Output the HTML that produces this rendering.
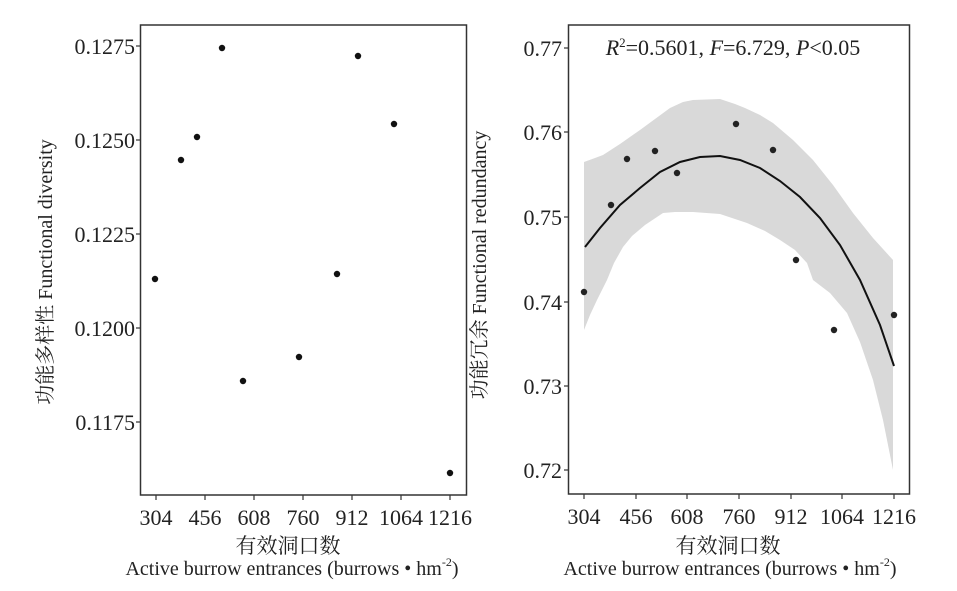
<!DOCTYPE html>
<html><head><meta charset="utf-8"><style>
body{margin:0;background:#fff;}
svg text{font-family:"Liberation Serif","Noto Serif CJK SC",serif;fill:#222;}
</style></head><body>
<svg width="957" height="586" viewBox="0 0 957 586" xmlns="http://www.w3.org/2000/svg">
<!-- Left panel -->
<rect x="140.5" y="25" width="326" height="470" fill="none" stroke="#333" stroke-width="1.5"/>
<g stroke="#333" stroke-width="1.2">
<line x1="136" y1="46" x2="140" y2="46"/><line x1="136" y1="140" x2="140" y2="140"/><line x1="136" y1="234" x2="140" y2="234"/><line x1="136" y1="328" x2="140" y2="328"/><line x1="136" y1="422" x2="140" y2="422"/>
<line x1="156" y1="495" x2="156" y2="500"/><line x1="205" y1="495" x2="205" y2="500"/><line x1="254" y1="495" x2="254" y2="500"/><line x1="303" y1="495" x2="303" y2="500"/><line x1="352" y1="495" x2="352" y2="500"/><line x1="401" y1="495" x2="401" y2="500"/><line x1="450" y1="495" x2="450" y2="500"/>
</g>
<g font-size="22" text-anchor="end">
<text x="135" y="54">0.1275</text><text x="135" y="148">0.1250</text><text x="135" y="242">0.1225</text><text x="135" y="336">0.1200</text><text x="135" y="430">0.1175</text>
</g>
<g font-size="22" text-anchor="middle">
<text x="156" y="525">304</text><text x="205" y="525">456</text><text x="254" y="525">608</text><text x="303" y="525">760</text><text x="352" y="525">912</text><text x="401" y="525">1064</text><text x="450" y="525">1216</text>
<text x="288" y="553" font-size="21">有效洞口数</text>
<text x="292" y="575" font-size="20">Active burrow entrances (burrows • hm<tspan font-size="12" dy="-9">-2</tspan><tspan dy="9">)</tspan></text>
</g>
<text transform="translate(52,272) rotate(-90)" font-size="20" text-anchor="middle">功能多样性 Functional diversity</text>
<g fill="#111">
<circle cx="155" cy="279" r="3.2"/><circle cx="181" cy="160" r="3.2"/><circle cx="197" cy="137" r="3.2"/><circle cx="222" cy="48" r="3.2"/><circle cx="243" cy="381" r="3.2"/><circle cx="299" cy="357" r="3.2"/><circle cx="337" cy="274" r="3.2"/><circle cx="358" cy="56" r="3.2"/><circle cx="394" cy="124" r="3.2"/><circle cx="450" cy="473" r="3.2"/>
</g>
<!-- Right panel -->
<path d="M584,162 L595,158 L603,155 L620,144 L640,130 L655,119 L670,108 L683,102 L693,100 L720,99 L735,104 L745,108 L760,115 L773,123 L793,140 L813,160 L833,185 L853,213 L873,238 L893,260 L893,470 L883,420 L873,380 L860,342 L847,313 L830,293 L813,280 L807,263 L795,250 L780,240 L765,231 L747,223 L720,214 L693,212 L675,212 L663,213 L645,225 L632,236 L623,247 L614,263 L607,280 L597,300 L590,315 L584,330 Z" fill="#d9d9d9"/>
<rect x="568.5" y="25" width="341" height="469" fill="none" stroke="#333" stroke-width="1.5"/>
<g stroke="#333" stroke-width="1.2">
<line x1="564" y1="48" x2="568" y2="48"/><line x1="564" y1="132" x2="568" y2="132"/><line x1="564" y1="217" x2="568" y2="217"/><line x1="564" y1="302" x2="568" y2="302"/><line x1="564" y1="386" x2="568" y2="386"/><line x1="564" y1="470" x2="568" y2="470"/>
<line x1="584" y1="494" x2="584" y2="499"/><line x1="636" y1="494" x2="636" y2="499"/><line x1="687" y1="494" x2="687" y2="499"/><line x1="739" y1="494" x2="739" y2="499"/><line x1="791" y1="494" x2="791" y2="499"/><line x1="842" y1="494" x2="842" y2="499"/><line x1="894" y1="494" x2="894" y2="499"/>
</g>
<g font-size="22" text-anchor="end">
<text x="562" y="56">0.77</text><text x="562" y="140">0.76</text><text x="562" y="225">0.75</text><text x="562" y="310">0.74</text><text x="562" y="394">0.73</text><text x="562" y="478">0.72</text>
</g>
<g font-size="22" text-anchor="middle">
<text x="584" y="524">304</text><text x="636" y="524">456</text><text x="687" y="524">608</text><text x="739" y="524">760</text><text x="791" y="524">912</text><text x="842" y="524">1064</text><text x="894" y="524">1216</text>
<text x="728" y="553" font-size="21">有效洞口数</text>
<text x="730" y="575" font-size="20">Active burrow entrances (burrows • hm<tspan font-size="12" dy="-9">-2</tspan><tspan dy="9">)</tspan></text>
</g>
<text transform="translate(486,265) rotate(-90)" font-size="20" text-anchor="middle">功能冗余 Functional redundancy</text>
<text x="733" y="55" font-size="22" text-anchor="middle"><tspan font-style="italic">R</tspan><tspan font-size="13" dy="-8">2</tspan><tspan dy="8">=0.5601, </tspan><tspan font-style="italic">F</tspan>=6.729, <tspan font-style="italic">P</tspan>&lt;0.05</text>
<path d="M585,247 L600,228 L620,205 L640,188 L660,172 L680,162 L700,157 L720,156 L740,160 L760,168 L780,181 L800,197 L820,218 L840,245 L860,280 L880,325 L894,366" fill="none" stroke="#111" stroke-width="2"/>
<g fill="#222">
<circle cx="584" cy="292" r="3.2"/><circle cx="611" cy="205" r="3.2"/><circle cx="627" cy="159" r="3.2"/><circle cx="655" cy="151" r="3.2"/><circle cx="677" cy="173" r="3.2"/><circle cx="736" cy="124" r="3.2"/><circle cx="773" cy="150" r="3.2"/><circle cx="796" cy="260" r="3.2"/><circle cx="834" cy="330" r="3.2"/><circle cx="894" cy="315" r="3.2"/>
</g>
</svg>
</body></html>
